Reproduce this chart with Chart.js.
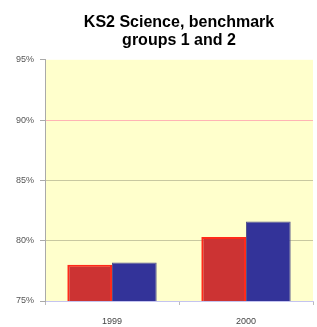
<!DOCTYPE html>
<html>
<head>
<meta charset="utf-8">
<script src="https://cdn.jsdelivr.net/npm/chart.js@4/dist/chart.umd.min.js"></script>
<style>
  html, body { margin: 0; padding: 0; background: #fff; }
  #wrap { width: 317px; height: 327px; }
</style>
</head>
<body>
<div id="wrap"><canvas id="chart" width="317" height="327"></canvas></div>
<script>
// values
const years = ['1999', '2000'];
const group1 = [78.0, 80.3];
const group2 = [78.2, 81.6];
const yMin = 75, yMax = 95, yStep = 5;
const titleLines = ['KS2 Science, benchmark', 'groups 1 and 2'];

// pale yellow plot background
const plotBg = {
  id: 'plotBg',
  beforeDraw(chart) {
    const { ctx, chartArea: a } = chart;
    ctx.save();
    ctx.fillStyle = '#ffffcc';
    ctx.fillRect(a.left, a.top, a.right - a.left, a.bottom - a.top);
    ctx.restore();
  }
};

const ctx = document.getElementById('chart').getContext('2d');
const chart = new Chart(ctx, {
  type: 'bar',
  data: {
    labels: years,
    datasets: [
      {
        label: 'Group 1',
        data: group1,
        backgroundColor: '#cc3333',
        borderColor: '#ff2a1a',
        borderWidth: 2,
        barPercentage: 1,
        categoryPercentage: 0.667
      },
      {
        label: 'Group 2',
        data: group2,
        backgroundColor: '#333399',
        borderColor: '#55558a',
        borderWidth: 1,
        barPercentage: 1,
        categoryPercentage: 0.667
      }
    ]
  },
  options: {
    responsive: false,
    animation: false,
    layout: { padding: { right: 4 } },
    plugins: {
      legend: { display: false },
      tooltip: { enabled: false },
      title: {
        display: true,
        fullSize: false,
        text: titleLines,
        color: '#000',
        font: { family: 'Arial', size: 16, weight: 'bold', lineHeight: 1.15 },
        padding: { top: 13, bottom: 10 }
      }
    },
    scales: {
      x: {
        afterFit: s => { s.height = 26; },
        border: { color: '#c4c4f0', width: 1 },
        grid: { offset: true, drawOnChartArea: false, tickLength: 4, color: '#bbbbbb' },
        ticks: { color: '#444', font: { family: 'Arial', size: 9 }, padding: 11 }
      },
      y: {
        min: yMin,
        max: yMax,
        afterFit: s => { s.width = 45; },
        border: { color: '#aaaaaa', width: 1 },
        grid: {
          tickLength: 5,
          tickColor: '#aaaaaa',
          color: c => (c.tick && c.tick.value === 90 ? '#ffb4b4' : (c.tick && (c.tick.value === 75 || c.tick.value === 95) ? 'rgba(0,0,0,0)' : '#c8c8a0'))
        },
        ticks: {
          stepSize: yStep,
          color: '#555',
          font: { family: 'Arial', size: 9 },
          padding: 6,
          callback: v => v + '%'
        }
      }
    }
  },
  plugins: [plotBg]
});
</script>
</body>
</html>
